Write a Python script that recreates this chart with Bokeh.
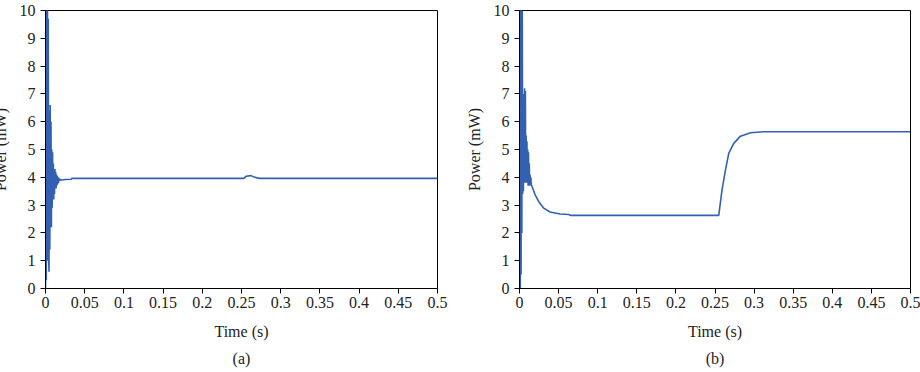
from bokeh.plotting import figure
from bokeh.layouts import row
from bokeh.models import Range1d, FixedTicker, NumeralTickFormatter, Title
from bokeh.embed import file_html
from bokeh.resources import INLINE

# ---- data (a) ----
t_a = [0.0000, 0.0005, 0.0010, 0.0015, 0.0020, 0.0025, 0.0030, 0.0035, 0.0040, 0.0045,
       0.0050, 0.0055, 0.0060, 0.0065, 0.0070, 0.0075, 0.0080, 0.0085, 0.0090, 0.0095,
       0.0100, 0.0105, 0.0110, 0.0115, 0.0120, 0.0125, 0.0130, 0.0135, 0.0140, 0.0145,
       0.0150, 0.0155, 0.0160, 0.0165, 0.0170, 0.0180, 0.0190, 0.0200, 0.0250, 0.0330,
       0.0335, 0.2530, 0.2560, 0.2620, 0.2660, 0.2700, 0.2740, 0.5000]
p_a = [0.0, 4.8, 0.3, 10.5, 1.0, 10.5, 2.0, 9.7, 1.1, 0.6,
       6.4, 1.4, 6.6, 2.3, 6.0, 2.2, 5.0, 2.9, 4.9, 3.2,
       4.5, 3.2, 4.3, 3.4, 4.3, 3.6, 4.2, 3.6, 4.1, 3.7,
       4.05, 3.75, 4.0, 3.8, 3.98, 3.88, 3.92, 3.90, 3.92, 3.93,
       3.96, 3.96, 4.04, 4.06, 4.01, 3.98, 3.96, 3.96]

# ---- data (b) ----
t_b = [0.0000, 0.0005, 0.0010, 0.0015, 0.0020, 0.0025, 0.0030, 0.0035, 0.0040, 0.0045,
       0.0050, 0.0055, 0.0060, 0.0065, 0.0070, 0.0075, 0.0080, 0.0085, 0.0090, 0.0095,
       0.0100, 0.0105, 0.0110, 0.0115, 0.0120, 0.0125, 0.0130, 0.0135, 0.0140, 0.0145,
       0.0150, 0.0160, 0.0200, 0.0245, 0.0310, 0.0390, 0.0520, 0.0630, 0.0650, 0.2548,
       0.2590, 0.2634, 0.2676, 0.2740, 0.2826, 0.2954, 0.3120, 0.5000]
p_b = [0.0, 10.5, 0.0, 10.5, 0.5, 10.5, 2.0, 10.5, 3.4, 6.9,
       3.5, 7.0, 3.8, 7.2, 3.9, 7.1, 3.8, 5.5, 3.8, 5.3,
       3.9, 5.0, 3.7, 4.9, 3.8, 4.5, 3.7, 4.1, 3.8, 4.0,
       3.75, 3.67, 3.37, 3.13, 2.89, 2.75, 2.68, 2.66, 2.63, 2.63,
       3.55, 4.27, 4.86, 5.22, 5.48, 5.60, 5.64, 5.64]

x_ticks = [0, 0.05, 0.1, 0.15, 0.2, 0.25, 0.3, 0.35, 0.4, 0.45, 0.5]
y_ticks = [0, 1, 2, 3, 4, 5, 6, 7, 8, 9, 10]
x_label = "Time (s)"
y_label = "Power (mW)"
captions = ["(a)", "(b)"]

FONT = "Liberation Serif"
FS = "16px"
LINE_COLOR = "#3360b0"


def make_plot(t, p, caption, width, border_right):
    fig = figure(width=width, height=372, output_backend="svg", toolbar_location=None,
                 x_range=Range1d(0, 0.5), y_range=Range1d(0, 10),
                 min_border_left=57, min_border_right=border_right,
                 min_border_top=10, min_border_bottom=10,
                 background_fill_color="white", border_fill_color="white",
                 outline_line_color="black", outline_line_width=1)
    fig.line(t, p, line_color=LINE_COLOR, line_width=1.6)
    fig.grid.visible = False
    for ax in (fig.xaxis[0], fig.yaxis[0]):
        ax.axis_line_color = "black"
        ax.major_tick_line_color = "black"
        ax.major_tick_in = 0
        ax.major_tick_out = 5
        ax.minor_tick_line_color = None
        ax.major_label_text_font = FONT
        ax.major_label_text_font_size = FS
        ax.major_label_text_color = "#222222"
        ax.axis_label_text_font = FONT
        ax.axis_label_text_font_size = FS
        ax.axis_label_text_font_style = "normal"
        ax.axis_label_text_color = "#222222"
    fig.xaxis.ticker = FixedTicker(ticks=x_ticks)
    fig.yaxis.ticker = FixedTicker(ticks=y_ticks)
    fig.xaxis.formatter = NumeralTickFormatter(format="0.[00]")
    fig.xaxis.axis_label = x_label
    fig.yaxis.axis_label = y_label
    fig.xaxis.major_label_standoff = 3
    fig.yaxis.major_label_standoff = 5
    fig.xaxis.axis_label_standoff = 12
    fig.yaxis.axis_label_standoff = 8
    cap = Title(text=caption, align="center", text_font=FONT, text_font_size=FS,
                text_font_style="normal", text_color="#222222", standoff=11)
    fig.add_layout(cap, "below")
    return fig


left = make_plot(t_a, p_a, captions[0], 474, 25)
right = make_plot(t_b, p_b, captions[1], 458, 10)

layout = row(left, right, styles={"margin-left": "-12px"})
open("out.html", "w").write(file_html(layout, INLINE))
